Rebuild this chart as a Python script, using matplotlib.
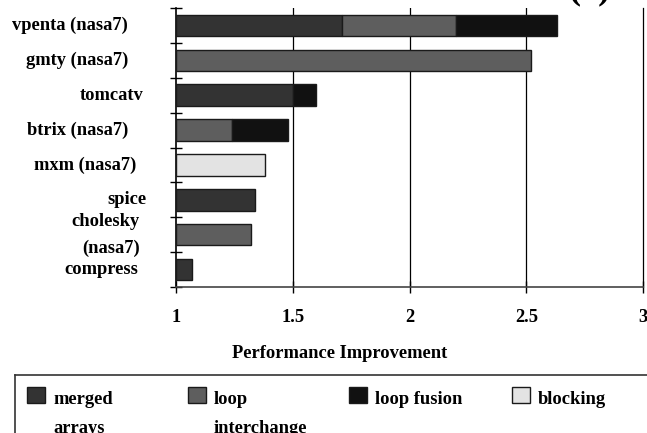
import numpy as np
import matplotlib
matplotlib.use("Agg")
from matplotlib import pyplot as plt
from matplotlib.patches import Rectangle
from matplotlib.lines import Line2D

plt.rcParams['font.family'] = ['Liberation Serif', 'DejaVu Serif']
plt.rcParams['font.weight'] = 'bold'

# benchmarks, top to bottom
programs = ["vpenta (nasa7)", "gmty (nasa7)", "tomcatv", "btrix (nasa7)",
            "mxm (nasa7)", "spice", "cholesky\n(nasa7)", "compress"]

# gain from each transformation (stacked, starting from 1.0)
merged_arrays    = [0.71, 0.00, 0.50, 0.00, 0.00, 0.34, 0.00, 0.07]
loop_interchange = [0.49, 1.52, 0.00, 0.24, 0.00, 0.00, 0.32, 0.00]
loop_fusion      = [0.43, 0.00, 0.10, 0.24, 0.00, 0.00, 0.00, 0.00]
blocking         = [0.00, 0.00, 0.00, 0.00, 0.38, 0.00, 0.00, 0.00]

series = [("merged\narrays", merged_arrays, "#333333"),
          ("loop\ninterchange", loop_interchange, "#5e5e5e"),
          ("loop fusion", loop_fusion, "#111111"),
          ("blocking", blocking, "#e3e3e3")]

xticks = [1, 1.5, 2, 2.5, 3]
xticklabels = ["1", "1.5", "2", "2.5", "3"]

FS = 13.3
W, H = 647, 433
fig = plt.figure(figsize=(W / 100, H / 100), dpi=100)
ax = fig.add_axes([176 / W, 1 - 287 / H, (643 - 176) / W, (287 - 8) / H])

y = np.arange(len(programs))
left = np.ones(len(programs))
for name, vals, col in series:
    vals = np.array(vals)
    mask = vals > 0
    ax.barh(y[mask], vals[mask], left=left[mask], height=0.62, color=col,
            edgecolor="#1a1a1a", linewidth=1.0, zorder=3)
    left = left + vals

ax.set_xlim(1, 3)
ax.set_ylim(len(programs) - 0.5, -0.5)

# vertical grid lines
for gx in [1.5, 2, 2.5]:
    ax.axvline(gx, color="black", linewidth=0.9, zorder=1)

ax.spines["top"].set_visible(False)
ax.spines["right"].set_linewidth(0.9)
ax.spines["left"].set_linewidth(1.2)
ax.spines["bottom"].set_linewidth(1.2)
ax.spines["bottom"].set_color("#444444")

ax.set_xticks(xticks)
ax.set_xticklabels(xticklabels, fontsize=FS, fontweight="bold")
ax.tick_params(axis="x", direction="inout", length=9, width=1, pad=11)

ax.set_yticks(np.arange(len(programs) + 1) - 0.5)
ax.set_yticklabels([])
ax.tick_params(axis="y", direction="inout", length=9, width=1)

# category labels, right edge per label
label_right = [128, 128, 143, 128, 136, 147, 140, 138]
for i, (lab, rx) in enumerate(zip(programs, label_right)):
    ax.text((rx - 176) / (643 - 176) * 2 + 1, i, lab, ha="right", va="center",
            fontsize=FS, fontweight="bold", linespacing=1.75,
            transform=ax.transData, clip_on=False)

fig.text(340 / W, 1 - 353 / H, "Performance Improvement", ha="center",
         va="center", fontsize=FS, fontweight="bold")

# legend box
fig.add_artist(Line2D([15 / W, 1], [1 - 375 / H, 1 - 375 / H],
                      transform=fig.transFigure, color="#333333", lw=1.2))
fig.add_artist(Line2D([15 / W, 15 / W], [1 - 375 / H, 0],
                      transform=fig.transFigure, color="#333333", lw=1.2))
leg_x = [27, 188, 349, 512]
for (name, vals, col), lx in zip(series, leg_x):
    fig.add_artist(Rectangle((lx / W, 1 - 403 / H), 18 / W, 16 / H,
                             transform=fig.transFigure, facecolor=col,
                             edgecolor="#1a1a1a", lw=1))
    fig.text((lx + 26) / W, 1 - 391 / H, name, ha="left", va="top",
             fontsize=FS, fontweight="bold", linespacing=1.92,
             transform=fig.transFigure)

fig.text(568 / W, 1.005, "(a)", ha="left", va="baseline", fontsize=26,
         fontweight="bold")

fig.savefig("out.png", dpi=100)
